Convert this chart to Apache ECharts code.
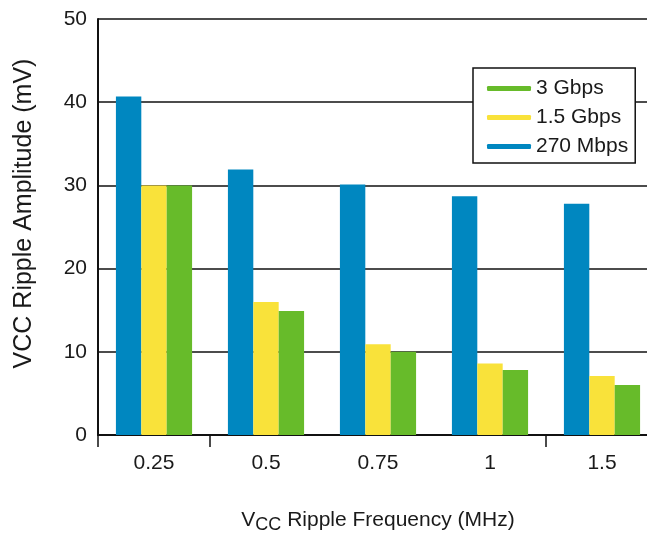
<!DOCTYPE html>
<html>
<head>
<meta charset="utf-8">
<script src="https://cdn.jsdelivr.net/npm/echarts@6/dist/echarts.min.js"></script>
<style>
html,body{margin:0;padding:0;background:#fff;}
#c{width:647px;height:533px;}
</style>
</head>
<body>
<div id="c"></div>
<script>
const categories = ['0.25', '0.5', '0.75', '1', '1.5'];
const mbps270 = [40.7, 31.9, 30.1, 28.7, 27.8];
const gbps15 = [30.0, 16.0, 10.9, 8.6, 7.1];
const gbps3 = [30.0, 14.9, 10.0, 7.8, 6.0];
const yTicks = [0, 10, 20, 30, 40, 50];
const shownTicks = [0, 1, 4];

const font = 'Liberation Sans, Arial, sans-serif';
const chart = echarts.init(document.getElementById('c'), null, {renderer: 'canvas'});
chart.setOption({
  animation: false,
  backgroundColor: '#fff',
  textStyle: {fontFamily: font, color: '#1a1a1a'},
  grid: {left: 98, right: -11, top: 19, bottom: 98, containLabel: false, outerBoundsMode: 'none'},
  legend: {
    orient: 'vertical',
    left: 473, top: 68,
    data: ['3 Gbps', '1.5 Gbps', '270 Mbps'],
    backgroundColor: '#fff',
    borderColor: '#111', borderWidth: 1.5, borderRadius: 0,
    padding: [10, 7, 6, 14],
    itemWidth: 44, itemHeight: 5, itemGap: 8,
    icon: 'roundRect',
    textStyle: {fontSize: 21, color: '#1a1a1a', fontFamily: font}
  },
  xAxis: {
    type: 'category',
    data: categories,
    name: 'V{sub|CC} Ripple Frequency (MHz)',
    nameLocation: 'middle',
    nameGap: 72,
    nameTextStyle: {
      fontSize: 21, color: '#1a1a1a', fontFamily: font,
      rich: {sub: {fontSize: 18, verticalAlign: 'bottom', padding: [9, 0, 0, 0], color: '#1a1a1a', fontFamily: font}}
    },
    axisLine: {show: true, lineStyle: {color: '#111', width: 2}},
    axisTick: {show: true, length: 12, lineStyle: {color: '#111', width: 1.5},
      interval: function (idx) { return shownTicks.indexOf(idx) >= 0; }},
    axisLabel: {fontSize: 21, color: '#1a1a1a', margin: 18, fontFamily: font},
    splitLine: {show: false}
  },
  yAxis: {
    type: 'value',
    min: yTicks[0], max: yTicks[yTicks.length - 1], interval: 10,
    name: 'VCC Ripple Amplitude (mV)',
    nameLocation: 'middle',
    nameGap: 61,
    nameTextStyle: {fontSize: 25, color: '#1a1a1a', fontFamily: font, padding: [0, 0, 0, 27]},
    axisLine: {show: true, lineStyle: {color: '#111', width: 2}},
    axisTick: {show: false},
    axisLabel: {fontSize: 21, color: '#1a1a1a', margin: 11, fontFamily: font},
    splitLine: {show: true, lineStyle: {color: '#111', width: 1.5}}
  },
  series: [
    {name: '270 Mbps', type: 'bar', data: mbps270, itemStyle: {color: '#0087c0'}, barGap: '0%', barCategoryGap: '32%'},
    {name: '1.5 Gbps', type: 'bar', data: gbps15, itemStyle: {color: '#f9e23a'}, barGap: '0%', barCategoryGap: '32%'},
    {name: '3 Gbps', type: 'bar', data: gbps3, itemStyle: {color: '#67bb2a'}, barGap: '0%', barCategoryGap: '32%'}
  ]
});
</script>
</body>
</html>
